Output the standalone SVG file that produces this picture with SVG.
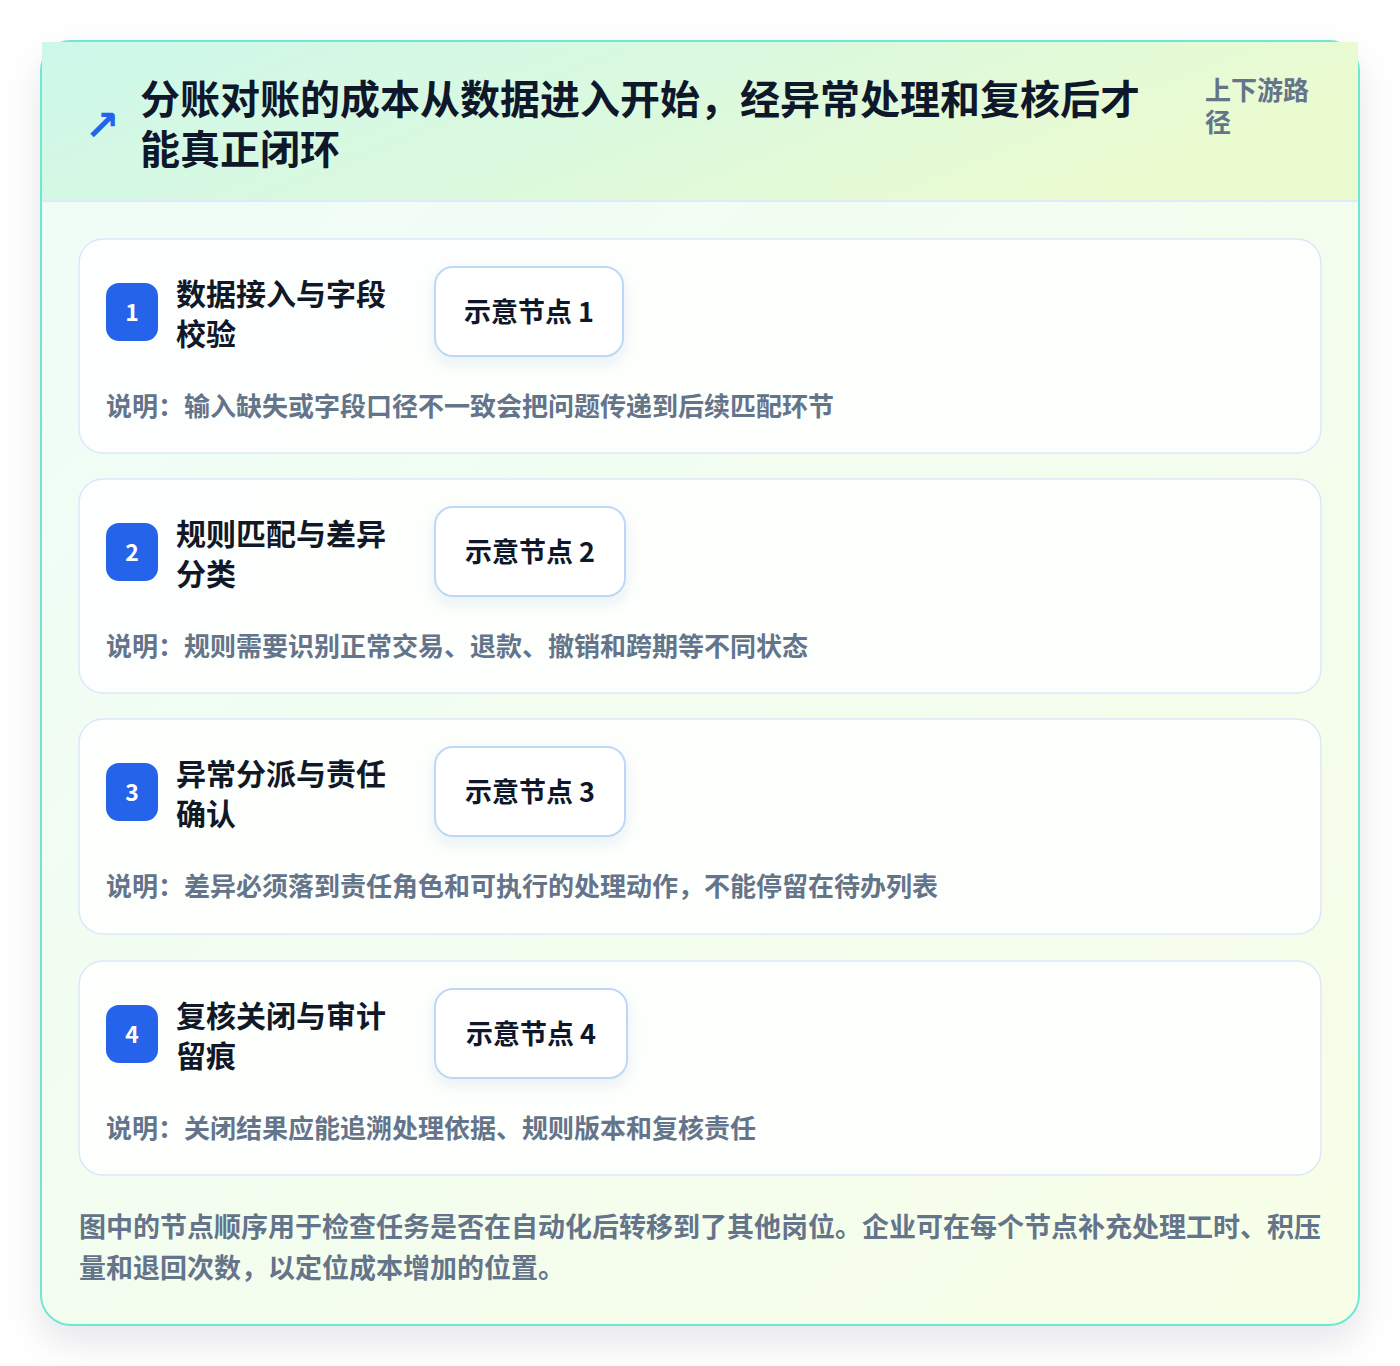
<svg xmlns="http://www.w3.org/2000/svg" width="1400" height="1366" viewBox="0 0 1400 1366">
<defs>
<linearGradient id="cardBg" x1="0" y1="0" x2="1" y2="1">
<stop offset="0" stop-color="#effdf8"/>
<stop offset="1" stop-color="#f7fee7"/>
</linearGradient>
<linearGradient id="headBg" x1="0" y1="0" x2="1" y2="0.3">
<stop offset="0" stop-color="#cdf8ea"/>
<stop offset="0.5" stop-color="#daf9df"/>
<stop offset="1" stop-color="#ebfbd0"/>
</linearGradient>
<filter id="cardShadow" x="-10%" y="-10%" width="120%" height="120%">
<feDropShadow dx="0" dy="16" stdDeviation="18" flood-color="#0f172a" flood-opacity="0.10"/>
</filter>
<filter id="nodeShadow" x="-20%" y="-20%" width="140%" height="160%">
<feDropShadow dx="0" dy="6" stdDeviation="7" flood-color="#1e3a8a" flood-opacity="0.08"/>
</filter>
<style>
text { font-family: "Noto Sans CJK SC", "Noto Sans", sans-serif; font-weight: 700; }
.title { font-size: 40px; fill: #0f172a; }
.tag { font-size: 26px; fill: #64748b; }
.step { fill: #fdfffd; fill-opacity: 0.92; stroke: #dbe7fb; stroke-width: 1.5; }
.badge { fill: #2563eb; }
.num { font-size: 23px; fill: #ffffff; text-anchor: middle; }
.stitle { font-size: 30px; fill: #111827; }
.node { fill: #ffffff; stroke: #bfd7f7; stroke-width: 2; }
.ntext { font-size: 27px; fill: #0f172a; text-anchor: middle; }
.desc { font-size: 26px; fill: #64748b; }
.foot { font-size: 27px; fill: #64748b; }
</style>
</defs>
<rect width="1400" height="1366" fill="#ffffff"/>
<g id="card">
<rect x="41" y="41" width="1318" height="1284" rx="30" fill="url(#cardBg)" stroke="#6ee7d3" stroke-width="2" filter="url(#cardShadow)"/>
<rect x="42" y="42" width="1316" height="159" fill="url(#headBg)"/>
<line x1="42" y1="201" x2="1358" y2="201" stroke="#dbeafe" stroke-width="2"/>
</g>
<g id="header">
<text x="102" y="140" font-size="42" fill="#2563eb" text-anchor="middle" style="font-family:'DejaVu Sans',sans-serif;font-weight:700">↗</text>
<text class="title" x="140" y="114">分账对账的成本从数据进入开始，经异常处理和复核后才</text>
<text class="title" x="140" y="164">能真正闭环</text>
<text class="tag" x="1205" y="100">上下游路</text>
<text class="tag" x="1205" y="132">径</text>
</g>
<g id="step1">
<rect class="step" x="79" y="239" width="1242" height="214" rx="24"/>
<rect class="badge" x="106" y="283" width="52" height="58" rx="13"/>
<text class="num" x="132" y="321">1</text>
<text class="stitle" x="176" y="305">数据接入与字段</text>
<text class="stitle" x="176" y="345">校验</text>
<rect class="node" x="435" y="267" width="188" height="89" rx="18" filter="url(#nodeShadow)"/>
<text class="ntext" x="529" y="322">示意节点 1</text>
<text class="desc" x="106" y="416">说明：输入缺失或字段口径不一致会把问题传递到后续匹配环节</text>
</g>
<g id="step2">
<rect class="step" x="79" y="479" width="1242" height="214" rx="24"/>
<rect class="badge" x="106" y="523" width="52" height="58" rx="13"/>
<text class="num" x="132" y="561">2</text>
<text class="stitle" x="176" y="545">规则匹配与差异</text>
<text class="stitle" x="176" y="585">分类</text>
<rect class="node" x="435" y="507" width="190" height="89" rx="18" filter="url(#nodeShadow)"/>
<text class="ntext" x="530" y="562">示意节点 2</text>
<text class="desc" x="106" y="656">说明：规则需要识别正常交易、退款、撤销和跨期等不同状态</text>
</g>
<g id="step3">
<rect class="step" x="79" y="719" width="1242" height="215" rx="24"/>
<rect class="badge" x="106" y="763" width="52" height="58" rx="13"/>
<text class="num" x="132" y="801">3</text>
<text class="stitle" x="176" y="785">异常分派与责任</text>
<text class="stitle" x="176" y="825">确认</text>
<rect class="node" x="435" y="747" width="190" height="89" rx="18" filter="url(#nodeShadow)"/>
<text class="ntext" x="530" y="802">示意节点 3</text>
<text class="desc" x="106" y="896">说明：差异必须落到责任角色和可执行的处理动作，不能停留在待办列表</text>
</g>
<g id="step4">
<rect class="step" x="79" y="961" width="1242" height="214" rx="24"/>
<rect class="badge" x="106" y="1005" width="52" height="58" rx="13"/>
<text class="num" x="132" y="1043">4</text>
<text class="stitle" x="176" y="1027">复核关闭与审计</text>
<text class="stitle" x="176" y="1067">留痕</text>
<rect class="node" x="435" y="989" width="192" height="89" rx="18" filter="url(#nodeShadow)"/>
<text class="ntext" x="531" y="1044">示意节点 4</text>
<text class="desc" x="106" y="1138">说明：关闭结果应能追溯处理依据、规则版本和复核责任</text>
</g>
<g id="connectors"></g>
<g id="footer">
<text class="foot" x="79" y="1237">图中的节点顺序用于检查任务是否在自动化后转移到了其他岗位。企业可在每个节点补充处理工时、积压</text>
<text class="foot" x="79" y="1278">量和退回次数，以定位成本增加的位置。</text>
</g>
</svg>
